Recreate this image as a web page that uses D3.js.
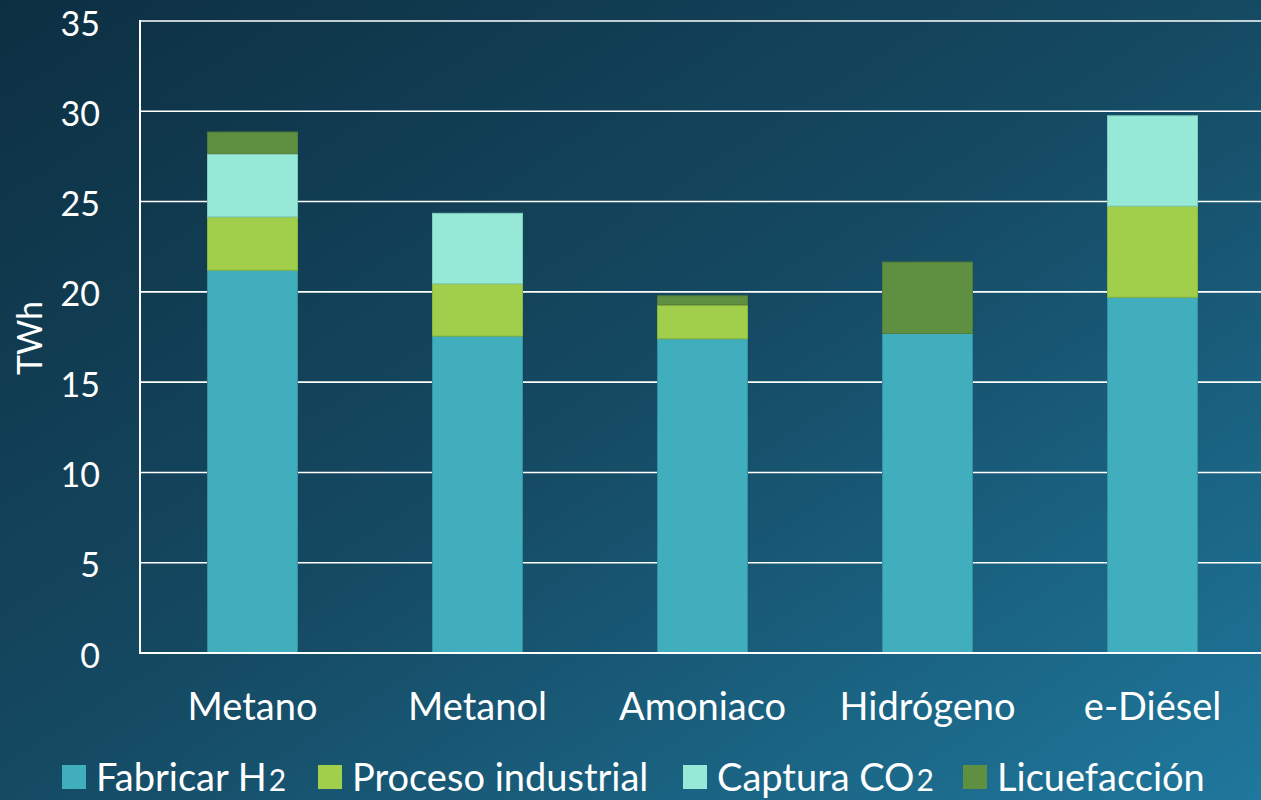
<!DOCTYPE html>
<html>
<head>
<meta charset="utf-8">
<script src="https://cdn.jsdelivr.net/npm/d3@7"></script>
<style>
  html, body { margin: 0; padding: 0; }
  body { width: 1261px; height: 800px; overflow: hidden; }
  svg { display: block; }
  text { font-family: Lato, "Open Sans", sans-serif; fill: #ffffff; }
</style>
</head>
<body>
<svg id="chart" width="1261" height="800"></svg>
<script>
// Energy demand per fuel, stacked by process step (TWh)
const categories = ["Metano", "Metanol", "Amoniaco", "Hidrógeno", "e-Diésel"];
const seriesNames = ["Fabricar H2", "Proceso industrial", "Captura CO2", "Licuefacción"];
// legend labels: [main text, trailing digit drawn at baseline in a smaller size]
const seriesLabels = [["Fabricar H", "2"], ["Proceso industrial", ""], ["Captura CO", "2"], ["Licuefacción", ""]];
const fabricarH2 = [21.2, 17.55, 17.4, 17.7, 19.7];
const procesoIndustrial = [2.95, 2.9, 1.88, 0, 5.05];
const capturaCO2 = [3.5, 3.9, 0, 0, 5.0];
const licuefaccion = [1.2, 0, 0.5, 3.95, 0];
const yTicks = [0, 5, 10, 15, 20, 25, 30, 35];
const colors = ["#40aebd", "#a1ce4b", "#96e8d7", "#5f8f40"];
const strokes = ["#35919f", "#8ab63c", "#7ccbbb", "#527c37"];

const rows = categories.map((c, i) => ({
  cat: c,
  "Fabricar H2": fabricarH2[i],
  "Proceso industrial": procesoIndustrial[i],
  "Captura CO2": capturaCO2[i],
  "Licuefacción": licuefaccion[i]
}));

const svg = d3.select("#chart");
const W = 1261, H = 800;

// background gradient
const defs = svg.append("defs");
const grad = defs.append("linearGradient")
  .attr("id", "bg").attr("x1", "0").attr("y1", "0").attr("x2", "1").attr("y2", "1");
grad.append("stop").attr("offset", "0%").attr("stop-color", "#0d2f42");
grad.append("stop").attr("offset", "50%").attr("stop-color", "#154a63");
grad.append("stop").attr("offset", "100%").attr("stop-color", "#1f789d");
svg.append("rect").attr("width", W).attr("height", H).attr("fill", "url(#bg)");

const x = d3.scaleBand().domain(categories).range([140, 1265])
  .paddingInner(0.6).paddingOuter(0.3);
const y = d3.scaleLinear().domain([0, 35]).range([653, 21]);

// gridlines
svg.append("g").selectAll("line").data(yTicks.filter(t => t > 0)).join("line")
  .attr("x1", 140).attr("x2", W)
  .attr("y1", d => y(d)).attr("y2", d => y(d))
  .attr("stroke", "#ffffff").attr("stroke-width", 1.6);

// stacked bars
const stack = d3.stack().keys(seriesNames)(rows);
svg.append("g").selectAll("g").data(stack).join("g")
  .attr("fill", (d, i) => colors[i])
  .attr("stroke", (d, i) => strokes[i])
  .attr("stroke-width", 1)
  .selectAll("rect").data(d => d.filter(p => p[1] - p[0] > 0)).join("rect")
  .attr("x", d => x(d.data.cat))
  .attr("width", x.bandwidth())
  .attr("y", d => y(d[1]))
  .attr("height", d => y(d[0]) - y(d[1]));

// axes lines
svg.append("line").attr("x1", 140).attr("x2", 140).attr("y1", 20).attr("y2", 654)
  .attr("stroke", "#ffffff").attr("stroke-width", 2);
svg.append("line").attr("x1", 139).attr("x2", W).attr("y1", 653).attr("y2", 653)
  .attr("stroke", "#ffffff").attr("stroke-width", 2);

// y tick labels
svg.append("g").selectAll("text").data(yTicks).join("text")
  .attr("x", 100).attr("y", d => y(d) + 6)
  .attr("text-anchor", "end").attr("dominant-baseline", "middle")
  .attr("font-size", 34)
  .text(d => d);

// category labels
svg.append("g").selectAll("text").data(categories).join("text")
  .attr("x", d => x(d) + x.bandwidth() / 2).attr("y", 720)
  .attr("text-anchor", "middle")
  .attr("font-size", 38)
  .text(d => d);

// y axis title
svg.append("text")
  .attr("transform", "translate(42,338) rotate(-90)")
  .attr("text-anchor", "middle")
  .attr("font-size", 34)
  .text("TWh");

// legend
const legendX = [62, 318, 683, 963];
const lg = svg.append("g").selectAll("g").data(seriesLabels).join("g")
  .attr("transform", (d, i) => `translate(${legendX[i]},0)`);
lg.append("rect").attr("x", 0).attr("y", 765).attr("width", 24).attr("height", 24)
  .attr("fill", (d, i) => colors[i]);
const lt = lg.append("text").attr("x", 34).attr("y", 791)
  .attr("font-size", 38);
lt.append("tspan").text(d => d[0]);
lt.append("tspan").attr("font-size", 30).attr("dx", 2).text(d => d[1]);
</script>
</body>
</html>
